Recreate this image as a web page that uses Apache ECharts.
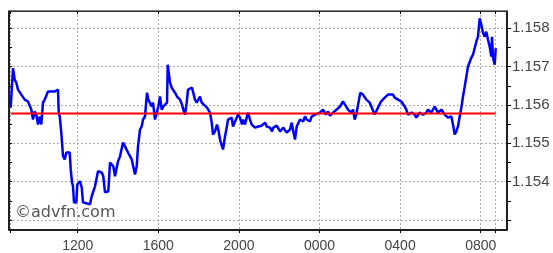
<!DOCTYPE html>
<html><head><meta charset="utf-8">
<script src="https://cdn.jsdelivr.net/npm/echarts@6/dist/echarts.min.js"></script>
<style>html,body{margin:0;padding:0;background:#fff}#c{width:553px;height:253px}</style>
</head><body><div id="c"></div>
<script>
// time in hours since 00:00 of day 1 (values > 24 are the next day)
const times = [8.675,8.789,8.873,8.953,9.037,9.201,9.370,9.449,9.533,9.697,9.782,9.866,9.945,10.030,10.114,10.194,10.278,10.362,10.442,10.526,10.610,10.690,10.774,10.859,10.938,11.022,11.057,11.107,11.186,11.270,11.355,11.434,11.519,11.603,11.653,11.717,11.767,11.816,11.931,11.980,12.114,12.199,12.263,12.362,12.610,12.695,12.859,13.007,13.191,13.270,13.355,13.519,13.603,13.767,13.851,14.000,14.099,14.248,14.347,14.496,14.680,14.844,14.928,14.993,15.092,15.176,15.241,15.340,15.439,15.504,15.588,15.672,15.737,15.836,15.921,16.000,16.084,16.169,16.248,16.333,16.432,16.467,16.581,16.665,16.730,16.829,16.928,17.077,17.176,17.241,17.325,17.409,17.474,17.573,17.672,17.737,17.821,17.906,18.069,18.154,18.233,18.417,18.481,18.566,18.650,18.714,18.814,18.913,18.978,19.062,19.161,19.211,19.310,19.395,19.459,19.558,19.643,19.707,19.891,19.956,20.055,20.154,20.218,20.303,20.387,20.452,20.551,20.635,20.715,20.799,20.963,21.131,21.295,21.380,21.544,21.643,21.707,21.876,22.040,22.204,22.288,22.372,22.536,22.620,22.700,22.784,22.869,22.948,23.032,23.117,23.196,23.280,23.365,23.444,23.529,23.613,23.692,23.777,23.861,24.025,24.109,24.174,24.323,24.422,24.521,24.670,24.769,24.854,25.018,25.166,25.266,25.415,25.578,25.663,25.747,25.826,25.960,26.025,26.159,26.243,26.323,26.491,26.571,26.655,26.739,26.819,26.903,27.052,27.236,27.400,27.484,27.648,27.732,27.896,28.060,28.228,28.308,28.392,28.576,28.725,28.804,28.973,29.137,29.301,29.385,29.549,29.717,29.881,30.045,30.213,30.377,30.541,30.625,30.710,30.789,30.873,30.958,31.038,31.122,31.206,31.285,31.370,31.454,31.534,31.618,31.702,31.782,31.866,31.950,32.030,32.114,32.199,32.278,32.362,32.447,32.526,32.561,32.611,32.695,32.745];
const prices = [1.15593,1.15696,1.15666,1.15658,1.15640,1.15627,1.15614,1.15619,1.15609,1.15588,1.15562,1.15583,1.15575,1.15549,1.15570,1.15549,1.15606,1.15614,1.15619,1.15635,1.15632,1.15635,1.15632,1.15635,1.15635,1.15640,1.15580,1.15570,1.15528,1.15467,1.15458,1.15476,1.15471,1.15476,1.15432,1.15398,1.15388,1.15346,1.15346,1.15393,1.15401,1.15385,1.15346,1.15341,1.15341,1.15362,1.15388,1.15427,1.15424,1.15414,1.15372,1.15375,1.15450,1.15440,1.15414,1.15453,1.15466,1.15502,1.15492,1.15476,1.15458,1.15419,1.15440,1.15492,1.15536,1.15544,1.15562,1.15570,1.15632,1.15614,1.15619,1.15596,1.15606,1.15562,1.15580,1.15596,1.15622,1.15588,1.15596,1.15593,1.15606,1.15705,1.15658,1.15645,1.15640,1.15632,1.15622,1.15614,1.15601,1.15588,1.15575,1.15606,1.15640,1.15642,1.15645,1.15640,1.15614,1.15606,1.15622,1.15606,1.15601,1.15593,1.15596,1.15580,1.15554,1.15523,1.15531,1.15549,1.15536,1.15510,1.15492,1.15484,1.15518,1.15541,1.15562,1.15557,1.15567,1.15544,1.15567,1.15575,1.15567,1.15549,1.15562,1.15549,1.15567,1.15580,1.15562,1.15549,1.15554,1.15541,1.15544,1.15546,1.15554,1.15544,1.15541,1.15531,1.15541,1.15546,1.15531,1.15541,1.15544,1.15528,1.15536,1.15554,1.15531,1.15510,1.15544,1.15549,1.15562,1.15567,1.15557,1.15570,1.15562,1.15567,1.15557,1.15570,1.15567,1.15575,1.15570,1.15580,1.15585,1.15588,1.15575,1.15583,1.15572,1.15580,1.15575,1.15588,1.15596,1.15609,1.15601,1.15588,1.15580,1.15588,1.15562,1.15575,1.15614,1.15632,1.15627,1.15632,1.15614,1.15606,1.15596,1.15593,1.15575,1.15575,1.15593,1.15609,1.15619,1.15627,1.15632,1.15627,1.15619,1.15614,1.15609,1.15596,1.15588,1.15575,1.15580,1.15575,1.15567,1.15580,1.15575,1.15580,1.15588,1.15580,1.15596,1.15580,1.15588,1.15575,1.15567,1.15570,1.15549,1.15523,1.15531,1.15544,1.15570,1.15593,1.15622,1.15648,1.15653,1.15700,1.15712,1.15723,1.15731,1.15736,1.15765,1.15778,1.15826,1.15809,1.15788,1.15778,1.15791,1.15770,1.15752,1.15726,1.15778,1.15723,1.15705,1.15748];
const refLevel = 1.15578;            // red horizontal line (previous close)
const xLabelHours = [12, 16, 20, 24, 28, 32];
const yLabels = [1.154, 1.155, 1.156, 1.157, 1.158];
const yGrid = [1.153, 1.154, 1.155, 1.156, 1.157, 1.158];
const yTicks = [1.153, 1.1535, 1.154, 1.1545, 1.155, 1.1555, 1.156, 1.1565, 1.157, 1.1575, 1.158];
const xMin = 8.59, xMax = 33.305, yMin = 1.15274, yMax = 1.15845;

const tStart = times[0], tEnd = times[times.length - 1];
const xTickVals = [tStart].concat(xLabelHours, [tEnd]);
const lineData = times.map((t, i) => [t, prices[i]]);
const refData = [[tStart, refLevel], [tEnd, refLevel]];
const fmtHour = v => { const h = Math.round(v) % 24; return (h < 10 ? '0' : '') + h + '00'; };

const chart = echarts.init(document.getElementById('c'), null, {renderer: 'canvas'});
chart.setOption({
  animation: false,
  backgroundColor: '#fff',
  grid: {left: 9, right: 46, top: 11, bottom: 23, show: true, borderColor: '#000', borderWidth: 1},
  xAxis: [
    {type: 'value', min: xMin, max: xMax, position: 'bottom',
     axisLine: {show: true, lineStyle: {color: '#000', width: 1.5}},
     axisTick: {show: true, inside: false, length: 3, customValues: xTickVals, lineStyle: {color: '#000'}},
     axisLabel: {customValues: xLabelHours, formatter: fmtHour, color: '#444', fontSize: 14,
                 fontFamily: 'Liberation Sans, Arial, sans-serif', margin: 9},
     splitLine: {show: true, lineStyle: {color: '#aaa', type: [2, 2], width: 1}}},
    {type: 'value', min: xMin, max: xMax, position: 'top',
     axisLine: {show: true, lineStyle: {color: '#333', width: 1}},
     axisTick: {show: true, inside: true, length: 3, customValues: xTickVals, lineStyle: {color: '#000'}},
     axisLabel: {show: false}, splitLine: {show: false}}
  ],
  yAxis: [
    {type: 'value', min: yMin, max: yMax, position: 'right',
     axisLine: {show: true, lineStyle: {color: '#000', width: 1.5}},
     axisTick: {show: true, inside: false, length: 4, customValues: yTicks, lineStyle: {color: '#000'}},
     axisLabel: {customValues: yLabels, formatter: v => v.toFixed(3), color: '#444', fontSize: 15,
                 fontFamily: 'Liberation Sans, Arial, sans-serif', margin: 5},
     splitLine: {show: false}},
    {type: 'value', min: yMin, max: yMax, position: 'left',
     axisLine: {show: true, lineStyle: {color: '#000', width: 1.5}},
     axisTick: {show: true, inside: true, length: 3, customValues: yTicks, lineStyle: {color: '#000'}},
     axisLabel: {show: false}, splitLine: {show: false}},
    {type: 'value', min: yMin, max: yMax, position: 'right',
     axisLine: {show: false}, axisTick: {show: false, customValues: yGrid},
     axisLabel: {show: false},
     splitLine: {show: true, lineStyle: {color: '#aaa', type: [2, 2], width: 1}}}
  ],
  series: [
    {type: 'line', data: lineData, xAxisIndex: 0, yAxisIndex: 0, showSymbol: false,
     lineStyle: {color: '#0000ff', width: 2.5}, itemStyle: {color: '#0000ff'}},
    {type: 'line', data: refData, xAxisIndex: 0, yAxisIndex: 0, showSymbol: false,
     lineStyle: {color: '#ff0000', width: 2}, itemStyle: {color: '#ff0000'}}
  ],
  graphic: [
    {type: 'text', left: 15, top: 205, silent: true,
     style: {text: '©advfn.com', fill: '#555', font: '16px "DejaVu Sans", Verdana, sans-serif'}}
  ]
});
</script></body></html>
